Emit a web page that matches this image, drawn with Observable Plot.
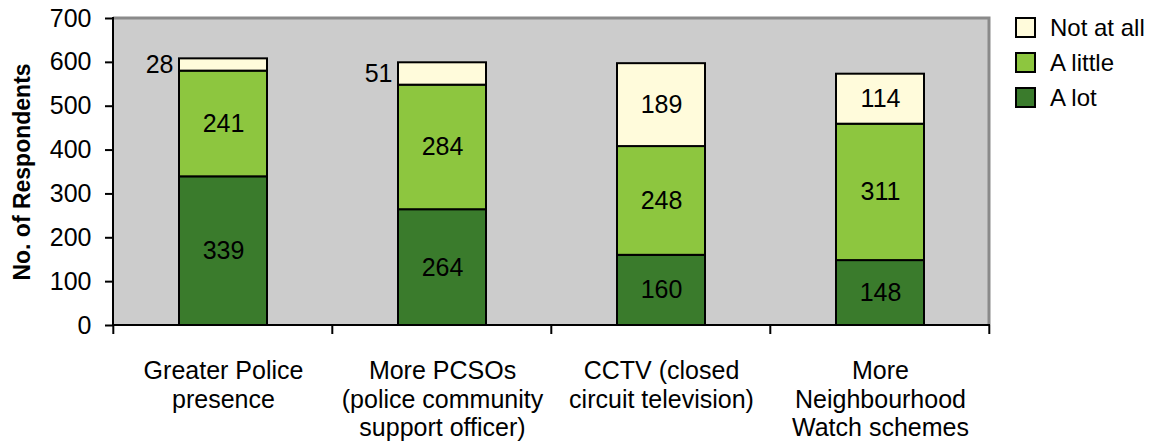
<!DOCTYPE html>
<html><head><meta charset="utf-8">
<script src="https://cdn.jsdelivr.net/npm/d3@7"></script>
<script src="https://cdn.jsdelivr.net/npm/@observablehq/plot@0.6"></script>
<style>
body{margin:0;background:#fff;font-family:"Liberation Sans",Arial,sans-serif;}
#wrap{position:relative;width:1151px;height:443px;}
#legend{position:absolute;left:1015px;top:10px;}
.item{display:flex;align-items:center;height:35px;font-size:24px;color:#000;}
.sw{width:17px;height:17px;border:2px solid #000;margin-right:14px;box-sizing:content-box;}
</style></head><body>
<div id="wrap"><div id="chart"></div><div id="legend"></div></div>
<script>
const categories = ["Greater Police presence","More PCSOs","CCTV","More Neighbourhood Watch schemes"];
const categoryLabels = [
  "Greater Police\npresence",
  "More PCSOs\n(police community\nsupport officer)",
  "CCTV (closed\ncircuit television)",
  "More\nNeighbourhood\nWatch schemes"
];
const seriesNames = ["A lot","A little","Not at all"];
const aLot = [339,264,160,148];
const aLittle = [241,284,248,311];
const notAtAll = [28,51,189,114];
const seriesColors = ["#3a7b2c","#8dc63f","#fffbdb"];
const yTicks = [0,100,200,300,400,500,600,700];
const yLabel = "No. of Respondents";

const seriesValues = [aLot, aLittle, notAtAll];
const rows = [];
categories.forEach((c, i) => {
  let base = 0;
  seriesValues.forEach((vals, s) => {
    const v = vals[i];
    rows.push({cat: c, series: seriesNames[s], value: v, y1: base, y2: base + v, mid: base + v / 2});
    base += v;
  });
});
const labelRows = categories.map((c, i) => ({cat: c, label: categoryLabels[i]}));

function frameLines(index, scales, values, dimensions) {
  const {width, height, marginLeft, marginRight, marginTop, marginBottom} = dimensions;
  const x0 = marginLeft, x1 = width - marginRight, y0 = marginTop, y1 = height - marginBottom;
  const g = d3.create("svg:g");
  g.append("path").attr("d", `M${x0},${y0}H${x1}V${y1}`).attr("fill", "none").attr("stroke", "#8a8a8a").attr("stroke-width", 3);
  g.append("path").attr("d", `M${x0},${y0 - 1}V${y1}H${x1 + 1}`).attr("fill", "none").attr("stroke", "#000").attr("stroke-width", 2);
  const step = scales.x(categories[1]) - scales.x(categories[0]);
  const bw = step * 0.4;
  const bounds = categories.map(c => scales.x(c) + bw / 2 - step / 2);
  bounds.push(scales.x(categories[categories.length - 1]) + bw / 2 + step / 2);
  bounds.forEach(b => {
    g.append("line").attr("x1", b).attr("x2", b).attr("y1", y1).attr("y2", y1 + 9).attr("stroke", "#000").attr("stroke-width", 2);
  });
  return g.node();
}

const chart = Plot.plot({
  width: 1151,
  height: 443,
  marginLeft: 113,
  marginRight: 162,
  marginTop: 18,
  marginBottom: 118,
  style: {fontFamily: "Liberation Sans, Arial, sans-serif", background: "#fff", color: "#000", overflow: "visible"},
  x: {domain: categories, paddingInner: 0.6, paddingOuter: 0.3, axis: null},
  y: {domain: [0, 700], axis: null},
  color: {domain: seriesNames, range: seriesColors},
  marks: [
    Plot.frame({fill: "#cccccc", stroke: null}),
    Plot.barY(rows, {x: "cat", y1: "y1", y2: "y2", fill: "series", stroke: "#000", strokeWidth: 2, inset: 0}),
    Plot.text(rows.filter(d => d.value >= 80), {x: "cat", y: "mid", text: d => String(d.value), fontSize: 25, fill: "#000"}),
    Plot.text(rows.filter(d => d.value < 80), {x: "cat", y: "mid", text: d => String(d.value), fontSize: 25, fill: "#000", textAnchor: "end", dx: -50}),
    frameLines,
    Plot.axisY(yTicks, {tickSize: 8, tickPadding: 14, fontSize: 25, strokeWidth: 2, label: null, tickFormat: d => String(d)}),
    Plot.text([yLabel], {frameAnchor: "left", textAnchor: "middle", rotate: -90, dx: -91, text: d => d, fontSize: 23, fontWeight: "bold", fill: "#000"}),
    Plot.text(labelRows, {x: "cat", text: "label", frameAnchor: "bottom", lineAnchor: "top", dy: 33, fontSize: 25, lineHeight: 1.15, fill: "#000", textAnchor: "middle"})
  ]
});
document.getElementById("chart").appendChild(chart);

const legend = document.getElementById("legend");
[2, 1, 0].forEach(s => {
  const item = document.createElement("div");
  item.className = "item";
  const sw = document.createElement("div");
  sw.className = "sw";
  sw.style.background = seriesColors[s];
  const t = document.createElement("span");
  t.textContent = seriesNames[s];
  item.appendChild(sw);
  item.appendChild(t);
  legend.appendChild(item);
});
</script>
</body></html>
